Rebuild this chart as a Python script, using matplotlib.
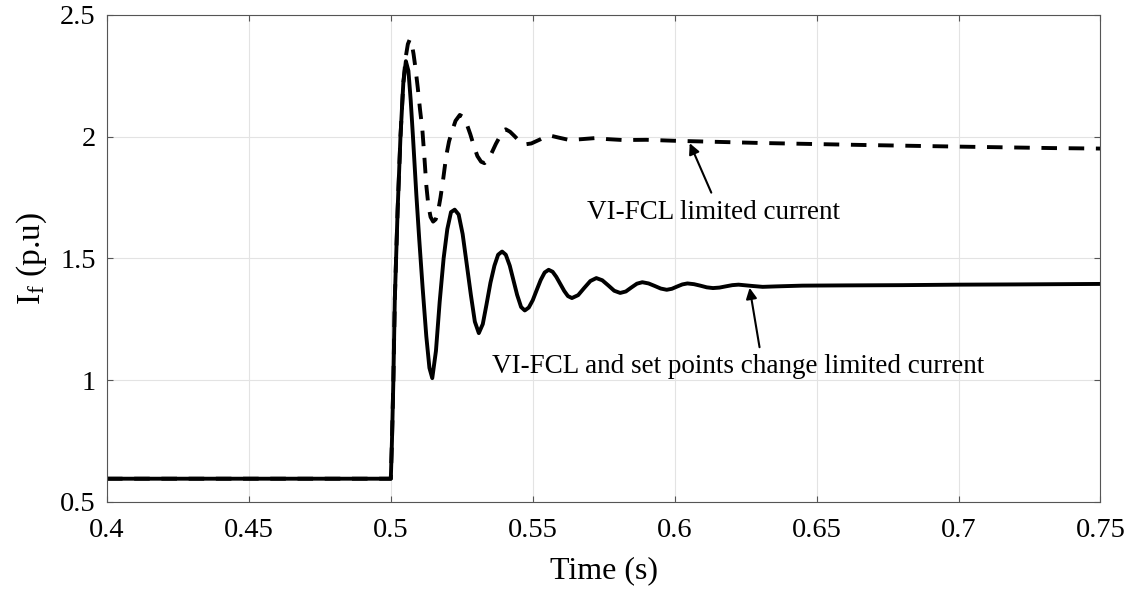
import matplotlib
matplotlib.use('agg')
import matplotlib.pyplot as plt

# fault current, VI-FCL + set points change (solid)
t_set = [0.4, 0.5, 0.5004, 0.5009, 0.5014, 0.5024, 0.5034, 0.5044, 0.5053,
         0.5062, 0.5070, 0.5078, 0.5090, 0.5100, 0.5112, 0.5125, 0.5136, 0.5146,
         0.5159, 0.5172, 0.5186, 0.5199, 0.5212, 0.5225,
         0.5239, 0.5253, 0.5267, 0.5282, 0.5296, 0.5310,
         0.5324, 0.5337, 0.5351, 0.5365, 0.5378, 0.5392,
         0.5405, 0.5419, 0.5432, 0.5445, 0.5459, 0.5472,
         0.5486, 0.5500, 0.5514, 0.5528, 0.5542, 0.5556,
         0.5570, 0.5583, 0.5597, 0.5611, 0.5624, 0.5638,
         0.5660, 0.5681, 0.5703, 0.5724,
         0.5745, 0.5766, 0.5787, 0.5808,
         0.5828, 0.5847, 0.5867, 0.5886,
         0.5908, 0.5929, 0.5951, 0.5972,
         0.5990, 0.6008, 0.6027, 0.6045,
         0.6068, 0.6090, 0.6113, 0.6135,
         0.6158, 0.6180, 0.6203, 0.6225,
         0.627, 0.631, 0.636, 0.645, 0.66, 0.68, 0.70, 0.72, 0.75]
i_set = [0.595, 0.595, 0.75, 1.0, 1.33, 1.70, 2.00, 2.22, 2.31,
         2.27, 2.15, 2.00, 1.76, 1.58, 1.38, 1.18, 1.05, 1.008,
         1.12, 1.32, 1.50, 1.62, 1.69, 1.70,
         1.68, 1.60, 1.48, 1.35, 1.24, 1.193,
         1.23, 1.31, 1.40, 1.47, 1.515, 1.528,
         1.515, 1.47, 1.41, 1.35, 1.30, 1.286,
         1.298, 1.328, 1.37, 1.411, 1.442, 1.453,
         1.445, 1.424, 1.395, 1.366, 1.345, 1.337,
         1.349, 1.378, 1.407, 1.419,
         1.41, 1.389, 1.367, 1.358,
         1.364, 1.38, 1.396, 1.402,
         1.397, 1.387, 1.376, 1.371,
         1.375, 1.384, 1.393, 1.397,
         1.394, 1.388, 1.381, 1.378,
         1.380, 1.385, 1.390, 1.392,
         1.387, 1.383, 1.385, 1.388, 1.389, 1.390, 1.392, 1.393, 1.395]

# fault current, VI-FCL only (dashed)
t_vi = [0.4, 0.5, 0.5004, 0.5009, 0.5014, 0.5024, 0.5034, 0.5044, 0.5053,
        0.5060, 0.5067, 0.5074, 0.5080, 0.5087, 0.5095, 0.5103, 0.5111,
        0.5118, 0.5125, 0.5132, 0.5140, 0.5149, 0.5158, 0.5166, 0.5175,
        0.5185, 0.5195, 0.5205, 0.5215, 0.5228, 0.5243, 0.5256, 0.5268,
        0.5280, 0.5293, 0.5305, 0.5318, 0.5330, 0.5343, 0.5356, 0.5370,
        0.5384, 0.5395, 0.5405, 0.5420, 0.5435, 0.5450, 0.5472, 0.5495,
        0.5525, 0.5546, 0.5566, 0.5595, 0.5630, 0.5676, 0.5720, 0.5760,
        0.5818, 0.59, 0.60, 0.63, 0.665, 0.70, 0.733, 0.75]
i_vi = [0.595, 0.595, 0.75, 1.0, 1.33, 1.70, 2.00, 2.22, 2.33,
        2.38, 2.40, 2.38, 2.34, 2.28, 2.20, 2.11, 2.03,
        1.92, 1.80, 1.72, 1.67, 1.651, 1.66, 1.69, 1.75,
        1.83, 1.92, 1.98, 2.02, 2.065, 2.089, 2.08, 2.05,
        2.01, 1.96, 1.92, 1.897, 1.891, 1.905, 1.935, 1.97,
        2.00, 2.025, 2.03, 2.02, 2.003, 1.985, 1.968, 1.972,
        1.988, 2.0, 2.003, 1.995, 1.986, 1.99, 1.994, 1.99,
        1.986, 1.987, 1.983, 1.974, 1.966, 1.959, 1.953, 1.951]

x_ticks = [0.4, 0.45, 0.5, 0.55, 0.6, 0.65, 0.7, 0.75]
x_tick_labels = ['0.4', '0.45', '0.5', '0.55', '0.6', '0.65', '0.7', '0.75']
y_ticks = [0.5, 1, 1.5, 2, 2.5]
y_tick_labels = ['0.5', '1', '1.5', '2', '2.5']

plt.rcParams['font.family'] = ['Liberation Serif', 'DejaVu Serif']
plt.rcParams['mathtext.fontset'] = 'stix'

fig = plt.figure(figsize=(11.38, 5.96), dpi=100)
ax = fig.add_axes([0.094, 0.158, 0.873, 0.817])

ax.plot(t_vi, i_vi, color='k', lw=2.8, linestyle=(0, (4, 3)))
ax.plot(t_set, i_set, color='k', lw=2.8)

ax.set_xlim(0.4, 0.75)
ax.set_ylim(0.5, 2.5)
ax.set_xticks(x_ticks)
ax.set_xticklabels(x_tick_labels)
ax.set_yticks(y_ticks)
ax.set_yticklabels(y_tick_labels)
ax.tick_params(direction='in', length=4, width=0.8, color='#555555',
               labelsize=20.5, top=True, right=True)
ax.tick_params(axis='x', pad=12)
ax.tick_params(axis='y', pad=8)
for s in ax.spines.values():
    s.set_color('#555555')
    s.set_linewidth(0.8)
ax.grid(True, color='#e3e3e3', lw=0.8)

ax.set_xlabel('Time (s)', fontsize=23, labelpad=9)
ax.set_ylabel(r'$\mathregular{I_f}$ (p.u)', fontsize=24, labelpad=8)

arrow = dict(arrowstyle='-|>', color='k', lw=1.5, mutation_scale=16,
             shrinkA=0, shrinkB=0)
ax.annotate('', xy=(0.6053, 1.973), xytext=(0.6129, 1.77), arrowprops=arrow)
ax.text(0.6137, 1.687, 'VI-FCL limited current', fontsize=19.5,
        ha='center', va='center')
ax.annotate('', xy=(0.6264, 1.379), xytext=(0.6299, 1.135), arrowprops=arrow)
ax.text(0.6225, 1.054, 'VI-FCL and set points change limited current',
        fontsize=19.5, ha='center', va='center')

fig.savefig('out.png', dpi=100)
